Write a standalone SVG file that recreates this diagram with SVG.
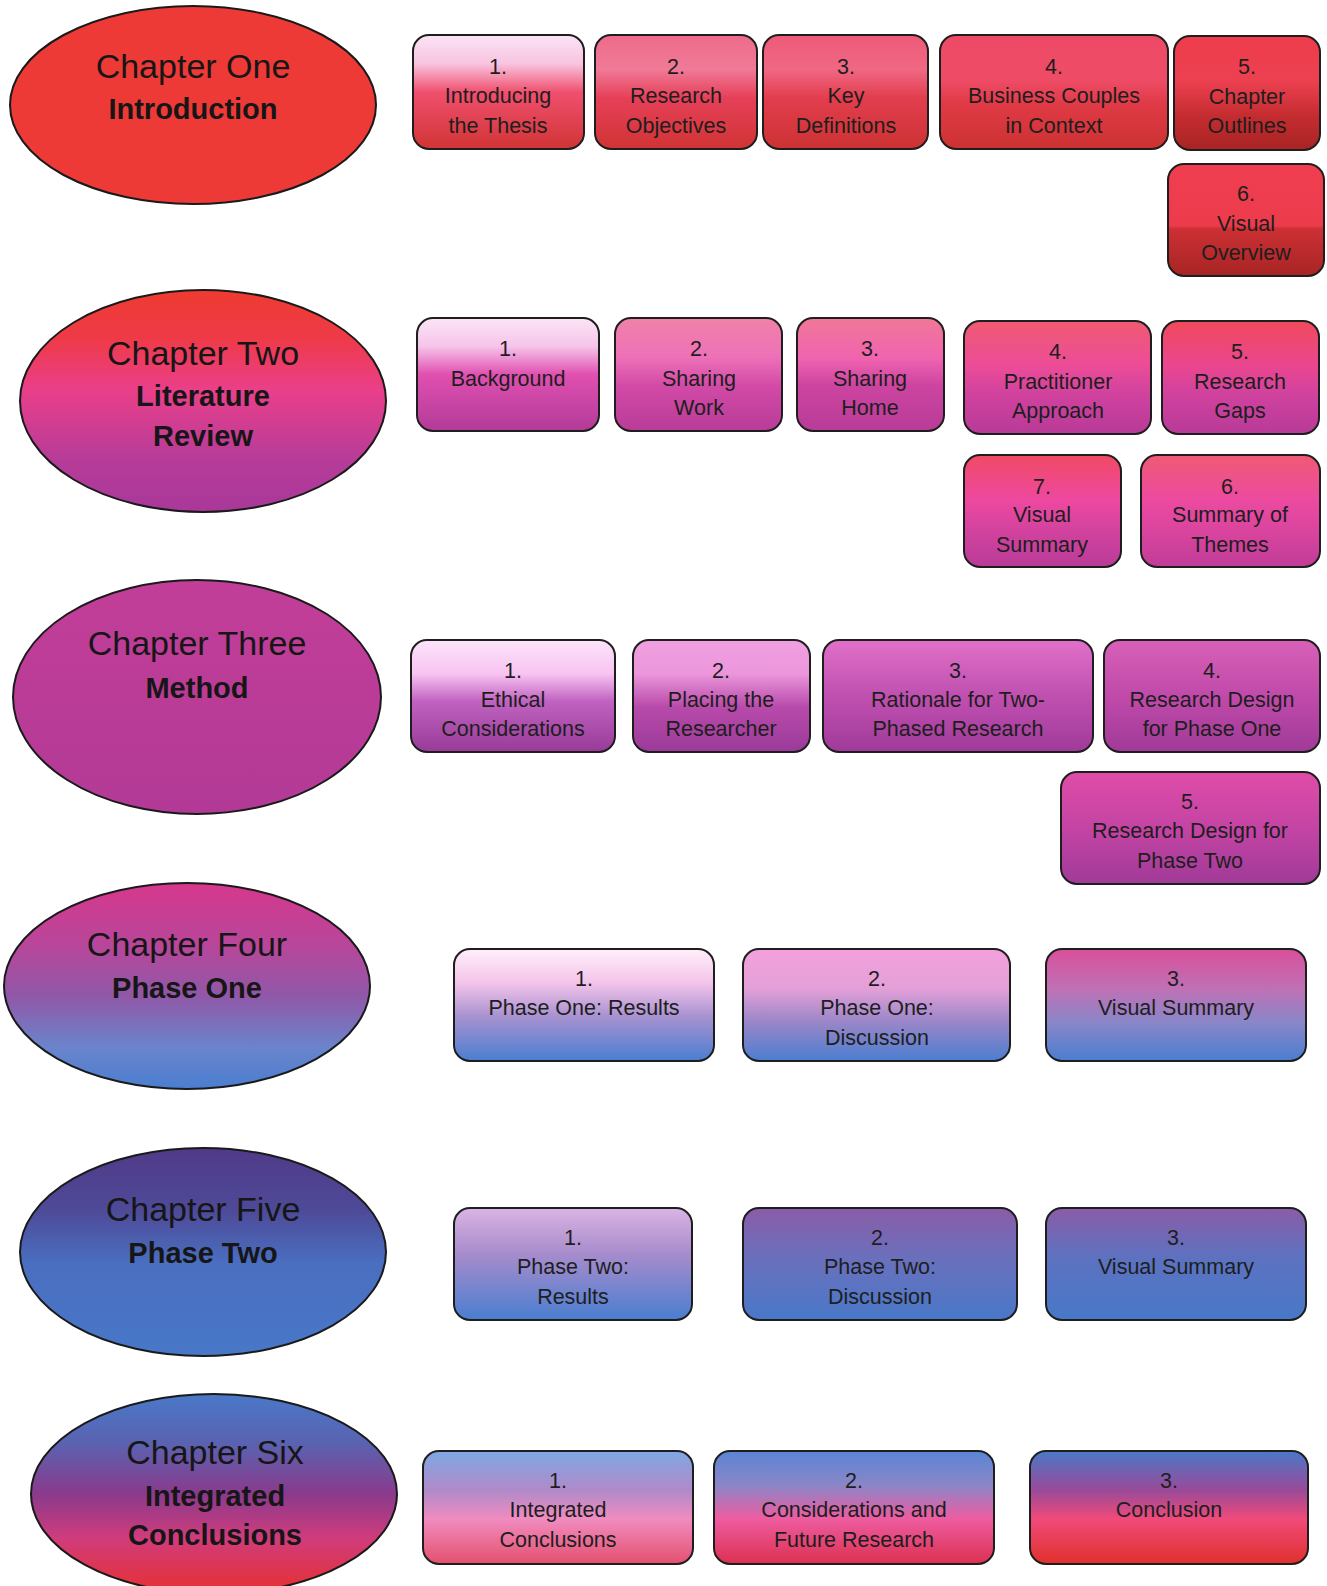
<svg xmlns="http://www.w3.org/2000/svg" width="1327" height="1586" viewBox="0 0 1327 1586">
<style>
.e{stroke:#1a1a1a;stroke-width:2}
.b{stroke:#1e1e1e;stroke-width:2}
.t{font-family:"Liberation Sans",Arial,sans-serif;font-size:21.5px;fill:#1e1e1e;text-anchor:middle}
.c{font-family:"Liberation Sans",Arial,sans-serif;font-size:34px;fill:#161616;text-anchor:middle}
.cb{font-family:"Liberation Sans",Arial,sans-serif;font-size:29px;font-weight:bold;fill:#161616;text-anchor:middle}
</style>
<defs>
<linearGradient id="e2" x1="0" y1="0" x2="0" y2="1"><stop offset="0" stop-color="#ef3b30"/><stop offset="0.22" stop-color="#ee3a48"/><stop offset="0.45" stop-color="#ea3f8a"/><stop offset="0.75" stop-color="#b83c98"/><stop offset="1" stop-color="#a8389a"/></linearGradient>
<linearGradient id="e3" x1="0" y1="0" x2="0" y2="1"><stop offset="0" stop-color="#c23e98"/><stop offset="1" stop-color="#b23a96"/></linearGradient>
<linearGradient id="e4" x1="0" y1="0" x2="0" y2="1"><stop offset="0" stop-color="#d6388c"/><stop offset="0.3" stop-color="#b8469a"/><stop offset="0.55" stop-color="#9058a8"/><stop offset="0.8" stop-color="#6a84cc"/><stop offset="1" stop-color="#4a7ed0"/></linearGradient>
<linearGradient id="e5" x1="0" y1="0" x2="0" y2="1"><stop offset="0" stop-color="#503a88"/><stop offset="0.3" stop-color="#4e4a98"/><stop offset="0.55" stop-color="#4a6ec0"/><stop offset="1" stop-color="#4878c8"/></linearGradient>
<linearGradient id="e6" x1="0" y1="0" x2="0" y2="1"><stop offset="0" stop-color="#4a78c8"/><stop offset="0.25" stop-color="#5a62b0"/><stop offset="0.5" stop-color="#8a3a8c"/><stop offset="0.72" stop-color="#d03c7c"/><stop offset="1" stop-color="#e63030"/></linearGradient>
<!-- row 1 -->
<linearGradient id="r1a" x1="0" y1="0" x2="0" y2="1"><stop offset="0" stop-color="#fbe4f6"/><stop offset="0.25" stop-color="#f8c4e0"/><stop offset="0.5" stop-color="#f0506e"/><stop offset="1" stop-color="#d03434"/></linearGradient>
<linearGradient id="r1b" x1="0" y1="0" x2="0" y2="1"><stop offset="0" stop-color="#ee6a8a"/><stop offset="0.3" stop-color="#f07a98"/><stop offset="0.55" stop-color="#e64058"/><stop offset="1" stop-color="#d03434"/></linearGradient>
<linearGradient id="r1c" x1="0" y1="0" x2="0" y2="1"><stop offset="0" stop-color="#ee5a78"/><stop offset="0.3" stop-color="#f06884"/><stop offset="0.55" stop-color="#e23e4e"/><stop offset="1" stop-color="#cc3232"/></linearGradient>
<linearGradient id="r1d" x1="0" y1="0" x2="0" y2="1"><stop offset="0" stop-color="#ee4a68"/><stop offset="0.4" stop-color="#ee4c66"/><stop offset="0.6" stop-color="#e03a46"/><stop offset="1" stop-color="#cc3232"/></linearGradient>
<linearGradient id="r1e" x1="0" y1="0" x2="0" y2="1"><stop offset="0" stop-color="#ee3c4c"/><stop offset="0.4" stop-color="#ec4050"/><stop offset="0.7" stop-color="#c42c30"/><stop offset="1" stop-color="#a82424"/></linearGradient>
<linearGradient id="r1f" x1="0" y1="0" x2="0" y2="1"><stop offset="0" stop-color="#f03e50"/><stop offset="0.55" stop-color="#ec3c4c"/><stop offset="0.58" stop-color="#cc3034"/><stop offset="1" stop-color="#a82424"/></linearGradient>
<!-- row 2 -->
<linearGradient id="r2a" x1="0" y1="0" x2="0" y2="1"><stop offset="0" stop-color="#fbe6f6"/><stop offset="0.25" stop-color="#f6c4ea"/><stop offset="0.5" stop-color="#e050b0"/><stop offset="1" stop-color="#b23a98"/></linearGradient>
<linearGradient id="r2b" x1="0" y1="0" x2="0" y2="1"><stop offset="0" stop-color="#f082a8"/><stop offset="0.35" stop-color="#ee70b8"/><stop offset="0.6" stop-color="#d24aa6"/><stop offset="1" stop-color="#b83c98"/></linearGradient>
<linearGradient id="r2c" x1="0" y1="0" x2="0" y2="1"><stop offset="0" stop-color="#f07896"/><stop offset="0.35" stop-color="#f064b0"/><stop offset="0.6" stop-color="#cc44a0"/><stop offset="1" stop-color="#b83c98"/></linearGradient>
<linearGradient id="r2d" x1="0" y1="0" x2="0" y2="1"><stop offset="0" stop-color="#f05a72"/><stop offset="0.4" stop-color="#ec4c98"/><stop offset="0.65" stop-color="#d0429e"/><stop offset="1" stop-color="#b83a98"/></linearGradient>
<linearGradient id="r2e" x1="0" y1="0" x2="0" y2="1"><stop offset="0" stop-color="#f04a5c"/><stop offset="0.4" stop-color="#ea4690"/><stop offset="0.65" stop-color="#d0429e"/><stop offset="1" stop-color="#b83a98"/></linearGradient>
<linearGradient id="r2f" x1="0" y1="0" x2="0" y2="1"><stop offset="0" stop-color="#f05a74"/><stop offset="0.4" stop-color="#ec4aa0"/><stop offset="0.7" stop-color="#d8449e"/><stop offset="1" stop-color="#c03c98"/></linearGradient>
<linearGradient id="r2g" x1="0" y1="0" x2="0" y2="1"><stop offset="0" stop-color="#f04a64"/><stop offset="0.4" stop-color="#ee48a0"/><stop offset="0.7" stop-color="#d0429e"/><stop offset="1" stop-color="#b83c98"/></linearGradient>
<!-- row 3 -->
<linearGradient id="r3a" x1="0" y1="0" x2="0" y2="1"><stop offset="0" stop-color="#fce4fa"/><stop offset="0.3" stop-color="#f8c4f2"/><stop offset="0.55" stop-color="#c062c0"/><stop offset="1" stop-color="#983a98"/></linearGradient>
<linearGradient id="r3b" x1="0" y1="0" x2="0" y2="1"><stop offset="0" stop-color="#f0a0e0"/><stop offset="0.3" stop-color="#ec96dc"/><stop offset="0.6" stop-color="#b84aaa"/><stop offset="1" stop-color="#9a3a9a"/></linearGradient>
<linearGradient id="r3c" x1="0" y1="0" x2="0" y2="1"><stop offset="0" stop-color="#e070c8"/><stop offset="0.5" stop-color="#c050b0"/><stop offset="1" stop-color="#a03a9a"/></linearGradient>
<linearGradient id="r3d" x1="0" y1="0" x2="0" y2="1"><stop offset="0" stop-color="#d860b8"/><stop offset="0.5" stop-color="#c04aaa"/><stop offset="1" stop-color="#a03a98"/></linearGradient>
<linearGradient id="r3e" x1="0" y1="0" x2="0" y2="1"><stop offset="0" stop-color="#e04ca8"/><stop offset="0.5" stop-color="#c444a4"/><stop offset="1" stop-color="#a03a98"/></linearGradient>
<!-- row 4 -->
<linearGradient id="r4a" x1="0" y1="0" x2="0" y2="1"><stop offset="0" stop-color="#fff0fa"/><stop offset="0.3" stop-color="#f4c4ea"/><stop offset="0.6" stop-color="#a892d0"/><stop offset="1" stop-color="#4a7ed0"/></linearGradient>
<linearGradient id="r4b" x1="0" y1="0" x2="0" y2="1"><stop offset="0" stop-color="#f4a0dc"/><stop offset="0.35" stop-color="#e4a0d8"/><stop offset="0.65" stop-color="#9a86c8"/><stop offset="1" stop-color="#4a7ed0"/></linearGradient>
<linearGradient id="r4c" x1="0" y1="0" x2="0" y2="1"><stop offset="0" stop-color="#d8509a"/><stop offset="0.35" stop-color="#c070b4"/><stop offset="0.65" stop-color="#8a86c8"/><stop offset="1" stop-color="#4a7ed0"/></linearGradient>
<!-- row 5 -->
<linearGradient id="r5a" x1="0" y1="0" x2="0" y2="1"><stop offset="0" stop-color="#dab4e4"/><stop offset="0.4" stop-color="#a88ccc"/><stop offset="1" stop-color="#4a7ed0"/></linearGradient>
<linearGradient id="r5b" x1="0" y1="0" x2="0" y2="1"><stop offset="0" stop-color="#8a5ca8"/><stop offset="0.45" stop-color="#6a70bc"/><stop offset="1" stop-color="#4878c8"/></linearGradient>
<linearGradient id="r5c" x1="0" y1="0" x2="0" y2="1"><stop offset="0" stop-color="#8a5ca8"/><stop offset="0.45" stop-color="#5c72c0"/><stop offset="1" stop-color="#4878c8"/></linearGradient>
<!-- row 6 -->
<linearGradient id="r6a" x1="0" y1="0" x2="0" y2="1"><stop offset="0" stop-color="#7ea8e4"/><stop offset="0.35" stop-color="#b08ac8"/><stop offset="0.6" stop-color="#f08cc0"/><stop offset="1" stop-color="#e4506e"/></linearGradient>
<linearGradient id="r6b" x1="0" y1="0" x2="0" y2="1"><stop offset="0" stop-color="#5a84d4"/><stop offset="0.3" stop-color="#8a86c8"/><stop offset="0.6" stop-color="#ee5ca0"/><stop offset="1" stop-color="#dc3050"/></linearGradient>
<linearGradient id="r6c" x1="0" y1="0" x2="0" y2="1"><stop offset="0" stop-color="#4a78c8"/><stop offset="0.35" stop-color="#9a4a98"/><stop offset="0.6" stop-color="#f04a7a"/><stop offset="1" stop-color="#e0302c"/></linearGradient>
</defs>

<g id="connectors"/>

<!-- Chapter One -->
<g id="ch1">
<ellipse class="e" cx="193" cy="105" rx="183" ry="99" fill="#ee3a36"/>
<text class="c" x="193" y="78">Chapter One</text>
<text class="cb" x="193" y="119">Introduction</text>
</g>
<g id="ch1-1"><rect class="b" x="413" y="35" width="171" height="114" rx="16" fill="url(#r1a)"/>
<text class="t" x="498" y="74">1.</text><text class="t" x="498" y="103">Introducing</text><text class="t" x="498" y="133">the Thesis</text></g>
<g id="ch1-2"><rect class="b" x="595" y="35" width="162" height="114" rx="16" fill="url(#r1b)"/>
<text class="t" x="676" y="74">2.</text><text class="t" x="676" y="103">Research</text><text class="t" x="676" y="133">Objectives</text></g>
<g id="ch1-3"><rect class="b" x="763" y="35" width="165" height="114" rx="16" fill="url(#r1c)"/>
<text class="t" x="846" y="74">3.</text><text class="t" x="846" y="103">Key</text><text class="t" x="846" y="133">Definitions</text></g>
<g id="ch1-4"><rect class="b" x="940" y="35" width="228" height="114" rx="16" fill="url(#r1d)"/>
<text class="t" x="1054" y="74">4.</text><text class="t" x="1054" y="103">Business Couples</text><text class="t" x="1054" y="133">in Context</text></g>
<g id="ch1-5"><rect class="b" x="1174" y="36" width="146" height="114" rx="16" fill="url(#r1e)"/>
<text class="t" x="1247" y="74">5.</text><text class="t" x="1247" y="104">Chapter</text><text class="t" x="1247" y="133">Outlines</text></g>
<g id="ch1-6"><rect class="b" x="1168" y="164" width="156" height="112" rx="16" fill="url(#r1f)"/>
<text class="t" x="1246" y="201">6.</text><text class="t" x="1246" y="231">Visual</text><text class="t" x="1246" y="260">Overview</text></g>

<!-- Chapter Two -->
<g id="ch2">
<ellipse class="e" cx="203" cy="401" rx="183" ry="111" fill="url(#e2)"/>
<text class="c" x="203" y="365">Chapter Two</text>
<text class="cb" x="203" y="406">Literature</text>
<text class="cb" x="203" y="446">Review</text>
</g>
<g id="ch2-1"><rect class="b" x="417" y="318" width="182" height="113" rx="16" fill="url(#r2a)"/>
<text class="t" x="508" y="356">1.</text><text class="t" x="508" y="386">Background</text></g>
<g id="ch2-2"><rect class="b" x="615" y="318" width="167" height="113" rx="16" fill="url(#r2b)"/>
<text class="t" x="699" y="356">2.</text><text class="t" x="699" y="386">Sharing</text><text class="t" x="699" y="415">Work</text></g>
<g id="ch2-3"><rect class="b" x="797" y="318" width="147" height="113" rx="16" fill="url(#r2c)"/>
<text class="t" x="870" y="356">3.</text><text class="t" x="870" y="386">Sharing</text><text class="t" x="870" y="415">Home</text></g>
<g id="ch2-4"><rect class="b" x="964" y="321" width="187" height="113" rx="16" fill="url(#r2d)"/>
<text class="t" x="1058" y="359">4.</text><text class="t" x="1058" y="389">Practitioner</text><text class="t" x="1058" y="418">Approach</text></g>
<g id="ch2-5"><rect class="b" x="1162" y="321" width="157" height="113" rx="16" fill="url(#r2e)"/>
<text class="t" x="1240" y="359">5.</text><text class="t" x="1240" y="389">Research</text><text class="t" x="1240" y="418">Gaps</text></g>
<g id="ch2-7"><rect class="b" x="964" y="455" width="157" height="112" rx="16" fill="url(#r2g)"/>
<text class="t" x="1042" y="494">7.</text><text class="t" x="1042" y="522">Visual</text><text class="t" x="1042" y="552">Summary</text></g>
<g id="ch2-6"><rect class="b" x="1141" y="455" width="179" height="112" rx="16" fill="url(#r2f)"/>
<text class="t" x="1230" y="494">6.</text><text class="t" x="1230" y="522">Summary of</text><text class="t" x="1230" y="552">Themes</text></g>

<!-- Chapter Three -->
<g id="ch3">
<ellipse class="e" cx="197" cy="697" rx="184" ry="117" fill="url(#e3)"/>
<text class="c" x="197" y="655">Chapter Three</text>
<text class="cb" x="197" y="698">Method</text>
</g>
<g id="ch3-1"><rect class="b" x="411" y="640" width="204" height="112" rx="16" fill="url(#r3a)"/>
<text class="t" x="513" y="678">1.</text><text class="t" x="513" y="707">Ethical</text><text class="t" x="513" y="736">Considerations</text></g>
<g id="ch3-2"><rect class="b" x="633" y="640" width="177" height="112" rx="16" fill="url(#r3b)"/>
<text class="t" x="721" y="678">2.</text><text class="t" x="721" y="707">Placing the</text><text class="t" x="721" y="736">Researcher</text></g>
<g id="ch3-3"><rect class="b" x="823" y="640" width="270" height="112" rx="16" fill="url(#r3c)"/>
<text class="t" x="958" y="678">3.</text><text class="t" x="958" y="707">Rationale for Two-</text><text class="t" x="958" y="736">Phased Research</text></g>
<g id="ch3-4"><rect class="b" x="1104" y="640" width="216" height="112" rx="16" fill="url(#r3d)"/>
<text class="t" x="1212" y="678">4.</text><text class="t" x="1212" y="707">Research Design</text><text class="t" x="1212" y="736">for Phase One</text></g>
<g id="ch3-5"><rect class="b" x="1061" y="772" width="259" height="112" rx="16" fill="url(#r3e)"/>
<text class="t" x="1190" y="809">5.</text><text class="t" x="1190" y="838">Research Design for</text><text class="t" x="1190" y="868">Phase Two</text></g>

<!-- Chapter Four -->
<g id="ch4">
<ellipse class="e" cx="187" cy="986" rx="183" ry="103" fill="url(#e4)"/>
<text class="c" x="187" y="956">Chapter Four</text>
<text class="cb" x="187" y="998">Phase One</text>
</g>
<g id="ch4-1"><rect class="b" x="454" y="949" width="260" height="112" rx="16" fill="url(#r4a)"/>
<text class="t" x="584" y="986">1.</text><text class="t" x="584" y="1015">Phase One: Results</text></g>
<g id="ch4-2"><rect class="b" x="743" y="949" width="267" height="112" rx="16" fill="url(#r4b)"/>
<text class="t" x="877" y="986">2.</text><text class="t" x="877" y="1015">Phase One:</text><text class="t" x="877" y="1045">Discussion</text></g>
<g id="ch4-3"><rect class="b" x="1046" y="949" width="260" height="112" rx="16" fill="url(#r4c)"/>
<text class="t" x="1176" y="986">3.</text><text class="t" x="1176" y="1015">Visual Summary</text></g>

<!-- Chapter Five -->
<g id="ch5">
<ellipse class="e" cx="203" cy="1252" rx="183" ry="104" fill="url(#e5)"/>
<text class="c" x="203" y="1221">Chapter Five</text>
<text class="cb" x="203" y="1263">Phase Two</text>
</g>
<g id="ch5-1"><rect class="b" x="454" y="1208" width="238" height="112" rx="16" fill="url(#r5a)"/>
<text class="t" x="573" y="1245">1.</text><text class="t" x="573" y="1274">Phase Two:</text><text class="t" x="573" y="1304">Results</text></g>
<g id="ch5-2"><rect class="b" x="743" y="1208" width="274" height="112" rx="16" fill="url(#r5b)"/>
<text class="t" x="880" y="1245">2.</text><text class="t" x="880" y="1274">Phase Two:</text><text class="t" x="880" y="1304">Discussion</text></g>
<g id="ch5-3"><rect class="b" x="1046" y="1208" width="260" height="112" rx="16" fill="url(#r5c)"/>
<text class="t" x="1176" y="1245">3.</text><text class="t" x="1176" y="1274">Visual Summary</text></g>

<!-- Chapter Six -->
<g id="ch6">
<ellipse class="e" cx="214" cy="1494" rx="183" ry="100" fill="url(#e6)"/>
<text class="c" x="215" y="1464">Chapter Six</text>
<text class="cb" x="215" y="1506">Integrated</text>
<text class="cb" x="215" y="1545">Conclusions</text>
</g>
<g id="ch6-1"><rect class="b" x="423" y="1451" width="270" height="113" rx="16" fill="url(#r6a)"/>
<text class="t" x="558" y="1488">1.</text><text class="t" x="558" y="1517">Integrated</text><text class="t" x="558" y="1547">Conclusions</text></g>
<g id="ch6-2"><rect class="b" x="714" y="1451" width="280" height="113" rx="16" fill="url(#r6b)"/>
<text class="t" x="854" y="1488">2.</text><text class="t" x="854" y="1517">Considerations and</text><text class="t" x="854" y="1547">Future Research</text></g>
<g id="ch6-3"><rect class="b" x="1030" y="1451" width="278" height="113" rx="16" fill="url(#r6c)"/>
<text class="t" x="1169" y="1488">3.</text><text class="t" x="1169" y="1517">Conclusion</text></g>
</svg>
